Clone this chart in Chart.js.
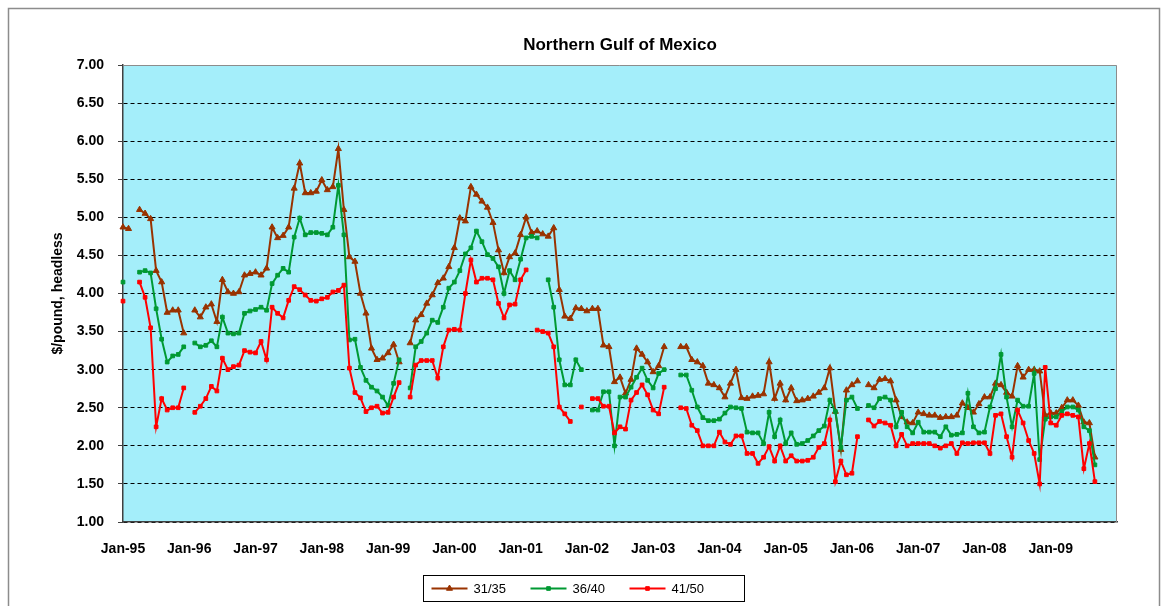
<!DOCTYPE html>
<html>
<head>
<meta charset="utf-8">
<title>Northern Gulf of Mexico</title>
<script src="https://cdn.jsdelivr.net/npm/chart.js@4.4.1/dist/chart.umd.min.js"></script>
<style>
  html, body { margin: 0; padding: 0; background: #fff; }
</style>
</head>
<body>
<canvas id="priceChart" width="1167" height="606"></canvas>
<script>
const chartTitle = 'Northern Gulf of Mexico';
const yAxisTitle = '$/pound, headless';
const seriesNames = ['31/35', '36/40', '41/50'];
const monthNames = ['Jan', 'Feb', 'Mar', 'Apr', 'May', 'Jun', 'Jul', 'Aug', 'Sep', 'Oct', 'Nov', 'Dec'];
const yearCodes = ['95', '96', '97', '98', '99', '00', '01', '02', '03', '04', '05', '06', '07', '08', '09', '10'];
const yMin = 1.0, yMax = 7.0, yStep = 0.5;

// monthly prices, Jan-95 onwards, one row per year (null = no report)
const size3135 = [
  4.87, 4.85, null, 5.10, 5.05, 4.98, 4.30, 4.15, 3.75, 3.78, 3.78, 3.48,
  null, 3.78, 3.69, 3.82, 3.86, 3.63, 4.18, 4.02, 4.00, 4.02, 4.24, 4.26,
  4.28, 4.24, 4.33, 4.87, 4.73, 4.76, 4.87, 5.38, 5.71, 5.32, 5.32, 5.34,
  5.49, 5.36, 5.40, 5.90, 5.10, 4.48, 4.42, 4.00, 3.74, 3.28, 3.13, 3.15,
  3.22, 3.33, 3.10, null, 3.35, 3.65, 3.72, 3.87, 3.98, 4.14, 4.20, 4.35,
  4.60, 4.99, 4.95, 5.40, 5.30, 5.21, 5.13, 4.93, 4.57, 4.27, 4.48, 4.53,
  4.77, 5.00, 4.80, 4.82, 4.78, 4.75, 4.86, 4.05, 3.70, 3.67, 3.81, 3.80,
  3.77, 3.80, 3.80, 3.32, 3.30, 2.84, 2.90, 2.69, 2.87, 3.28, 3.20, 3.10,
  2.97, 3.05, 3.30, null, null, 3.30, 3.30, 3.13, 3.10, 3.05, 2.82, 2.80,
  2.76, 2.64, 2.82, 3.00, 2.63, 2.62, 2.65, 2.66, 2.68, 3.10, 2.62, 2.82,
  2.60, 2.76, 2.59, 2.60, 2.62, 2.65, 2.70, 2.76, 3.02, 2.45, 1.95, 2.73,
  2.80, 2.85, null, 2.80, 2.76, 2.87, 2.88, 2.85, 2.60, 2.38, 2.31, 2.30,
  2.44, 2.42, 2.40, 2.40, 2.37, 2.38, 2.38, 2.40, 2.56, 2.50, 2.44, 2.55,
  2.64, 2.64, 2.82, 2.80, 2.70, 2.65, 3.05, 2.90, 3.00, 3.00, 2.98, 2.40,
  2.43, 2.43, 2.50, 2.60, 2.60, 2.53, 2.31, 2.30, 1.85
];
const size3640 = [
  4.15, null, null, 4.28, 4.30, 4.27, 3.80, 3.40, 3.10, 3.18, 3.20, 3.30,
  null, 3.35, 3.30, 3.32, 3.38, 3.30, 3.69, 3.48, 3.47, 3.48, 3.74, 3.77,
  3.79, 3.82, 3.78, 4.13, 4.24, 4.33, 4.28, 4.74, 4.99, 4.77, 4.80, 4.80,
  4.79, 4.77, 4.87, 5.42, 4.77, 3.39, 3.40, 3.03, 2.86, 2.77, 2.72, 2.64,
  2.53, 2.82, 3.13, null, 2.76, 3.30, 3.37, 3.48, 3.65, 3.62, 3.82, 4.07,
  4.15, 4.30, 4.52, 4.60, 4.82, 4.68, 4.51, 4.46, 4.35, 4.00, 4.30, 4.18,
  4.45, 4.73, 4.75, 4.73, null, 4.18, 3.82, 3.13, 2.80, 2.80, 3.13, 3.00,
  null, 2.47, 2.47, 2.71, 2.71, 2.00, 2.64, 2.64, 2.77, 2.90, 3.02, 2.86,
  2.76, 2.95, 3.00, null, null, 2.93, 2.93, 2.73, 2.51, 2.37, 2.33, 2.33,
  2.35, 2.43, 2.51, 2.50, 2.49, 2.18, 2.17, 2.17, 2.03, 2.44, 2.12, 2.34,
  2.03, 2.17, 2.02, 2.03, 2.07, 2.13, 2.20, 2.26, 2.60, 2.45, 1.98, 2.60,
  2.64, 2.49, null, 2.53, 2.50, 2.62, 2.64, 2.60, 2.25, 2.44, 2.25, 2.17,
  2.31, 2.18, 2.18, 2.18, 2.12, 2.25, 2.14, 2.15, 2.17, 2.69, 2.25, 2.17,
  2.18, 2.51, 2.75, 3.20, 2.64, 2.25, 2.60, 2.52, 2.52, 2.95, 1.82, 2.35,
  2.38, 2.38, 2.45, 2.51, 2.51, 2.47, 2.25, 2.20, 1.75
];
const size4150 = [
  3.90, null, null, 4.15, 3.95, 3.55, 2.25, 2.62, 2.47, 2.50, 2.50, 2.76,
  null, 2.44, 2.52, 2.62, 2.78, 2.72, 3.15, 3.00, 3.04, 3.06, 3.25, 3.23,
  3.22, 3.37, 3.13, 3.82, 3.74, 3.68, 3.91, 4.09, 4.05, 3.98, 3.91, 3.90,
  3.93, 3.95, 4.02, 4.04, 4.11, 3.02, 2.70, 2.63, 2.45, 2.50, 2.52, 2.43,
  2.44, 2.64, 2.83, null, 2.64, 3.06, 3.12, 3.12, 3.12, 2.89, 3.30, 3.52,
  3.53, 3.52, 4.00, 4.44, 4.15, 4.20, 4.20, 4.18, 3.87, 3.68, 3.85, 3.86,
  4.18, 4.31, null, 3.52, 3.50, 3.48, 3.30, 2.51, 2.42, 2.32, null, 2.51,
  null, 2.62, 2.62, 2.52, 2.52, 2.17, 2.25, 2.22, 2.60, 2.70, 2.80, 2.67,
  2.47, 2.42, 2.77, null, null, 2.50, 2.49, 2.27, 2.20, 2.00, 2.00, 2.00,
  2.18, 2.05, 2.02, 2.13, 2.13, 1.90, 1.90, 1.77, 1.85, 1.99, 1.80, 2.00,
  1.80, 1.87, 1.80, 1.80, 1.81, 1.85, 1.98, 2.03, 2.34, 1.53, 1.80, 1.62,
  1.64, 2.12, null, 2.34, 2.26, 2.32, 2.30, 2.27, 2.00, 2.15, 2.00, 2.03,
  2.03, 2.03, 2.03, 2.00, 1.97, 2.00, 2.03, 1.90, 2.04, 2.03, 2.04, 2.04,
  2.04, 1.90, 2.40, 2.42, 2.12, 1.85, 2.47, 2.30, 2.07, 1.90, 1.50, 3.03,
  2.30, 2.27, 2.40, 2.42, 2.40, 2.38, 1.70, 2.03, 1.53
];

// month categories Jan-95 .. Jan-10 (axis runs to the start of 2010)
const monthLabels = [];
yearCodes.forEach((yy, yi) => {
  monthNames.forEach((mm, mi) => {
    if (yi < yearCodes.length - 1 || mi === 0) monthLabels.push(mm + '-' + yy);
  });
});

const FONT = 'Arial, "Liberation Sans", sans-serif';
const plotBg = '#a4eefa';

// white page, outer frame and cyan plot area
const backdrop = {
  id: 'backdrop',
  beforeDraw(chart) {
    const {ctx, chartArea: a} = chart;
    ctx.save();
    ctx.fillStyle = '#fff';
    ctx.fillRect(0, 0, chart.width, chart.height);
    ctx.strokeStyle = '#8c8c8c';
    ctx.lineWidth = 1.5;
    ctx.strokeRect(8.5, 8.5, chart.width - 16, chart.height + 10);
    ctx.fillStyle = plotBg;
    ctx.fillRect(a.left, a.top, a.right - a.left, a.bottom - a.top);
    ctx.restore();
  },
  afterDatasetsDraw(chart) {
    const {ctx, chartArea: a} = chart;
    ctx.save();
    ctx.strokeStyle = '#8c8c8c';
    ctx.lineWidth = 1;
    ctx.beginPath();
    ctx.moveTo(a.left, a.top + 0.5);
    ctx.lineTo(a.right - 0.5, a.top + 0.5);
    ctx.lineTo(a.right - 0.5, a.bottom);
    ctx.stroke();
    ctx.restore();
  }
};

// title centred over the plot area
const plotTitle = {
  id: 'plotTitle',
  afterDraw(chart) {
    const {ctx, chartArea: a} = chart;
    ctx.save();
    ctx.fillStyle = '#000';
    ctx.font = 'bold 17px ' + FONT;
    ctx.textAlign = 'center';
    ctx.textBaseline = 'middle';
    ctx.fillText(chartTitle, (a.left + a.right) / 2, 45);
    ctx.restore();
  }
};

// boxed legend at the bottom, line sample + marker per series
const boxLegend = {
  id: 'boxLegend',
  afterDraw(chart) {
    const ctx = chart.ctx;
    const w = 321, h = 26, top = 575.5;
    const left = Math.round(chart.width / 2 - w / 2) + 0.5;
    ctx.save();
    ctx.strokeStyle = '#000';
    ctx.lineWidth = 1;
    ctx.strokeRect(left, top, w, h);
    chart.data.datasets.forEach((ds, i) => {
      const x0 = left + 8 + i * 99;
      const y = top + h / 2;
      ctx.strokeStyle = ds.borderColor;
      ctx.lineWidth = 2;
      ctx.beginPath();
      ctx.moveTo(x0, y);
      ctx.lineTo(x0 + 36, y);
      ctx.stroke();
      ctx.fillStyle = ds.borderColor;
      ctx.lineWidth = 1;
      Chart.helpers.drawPoint(ctx, {pointStyle: ds.pointStyle, radius: ds.pointRadius, borderWidth: 1, rotation: 0}, x0 + 18, y);
      ctx.fillStyle = '#000';
      ctx.font = '13px ' + FONT;
      ctx.textAlign = 'left';
      ctx.textBaseline = 'middle';
      ctx.fillText(ds.label, x0 + 42, y + 1);
    });
    ctx.restore();
  }
};

function series(label, data, color, style, radius, order) {
  return {
    label, data, order,
    borderColor: color,
    backgroundColor: color,
    borderWidth: 2,
    pointStyle: style,
    pointRadius: radius,
    pointBorderWidth: 1,
    pointHoverRadius: radius,
    tension: 0,
    spanGaps: false
  };
}

new Chart(document.getElementById('priceChart').getContext('2d'), {
  type: 'line',
  data: {
    labels: monthLabels,
    datasets: [
      series(seriesNames[0], size3135, '#993300', 'triangle', 3.5, 3),
      series(seriesNames[1], size3640, '#009933', 'rect', 2.6, 2),
      series(seriesNames[2], size4150, '#ff0000', 'rect', 2.6, 1)
    ]
  },
  options: {
    responsive: false,
    animation: false,
    devicePixelRatio: 1,
    layout: { padding: { left: 46, right: 50, top: 65, bottom: 49 } },
    plugins: {
      legend: { display: false },
      title: { display: false },
      tooltip: { enabled: false }
    },
    scales: {
      x: {
        type: 'category',
        offset: false,
        grid: { display: false },
        border: { display: true, color: '#404040', width: 1.5 },
        afterFit(scale) { scale.height = 35; },
        ticks: {
          autoSkip: false,
          maxRotation: 0,
          minRotation: 0,
          padding: 11,
          color: '#000',
          font: { family: FONT, size: 14, weight: 'bold' },
          callback(value, index) {
            return (index % 12 === 0 && index < monthLabels.length - 1) ? monthLabels[index] : '';
          }
        }
      },
      y: {
        min: yMin,
        max: yMax,
        afterFit(scale) { scale.width = 77; },
        grid: {
          color: '#000',
          lineWidth: 1,
          drawTicks: true,
          tickLength: 5,
          tickColor: '#404040',
          tickBorderDash: []
        },
        border: { display: true, color: '#404040', width: 1.5, dash: [4, 3] },
        ticks: {
          stepSize: yStep,
          padding: 14,
          color: '#000',
          font: { family: FONT, size: 14, weight: 'bold' },
          callback(value) { return Number(value).toFixed(2); }
        },
        title: {
          display: true,
          text: yAxisTitle,
          color: '#000',
          font: { family: FONT, size: 14, weight: 'bold' }
        }
      }
    }
  },
  plugins: [backdrop, plotTitle, boxLegend]
});
</script>
</body>
</html>
